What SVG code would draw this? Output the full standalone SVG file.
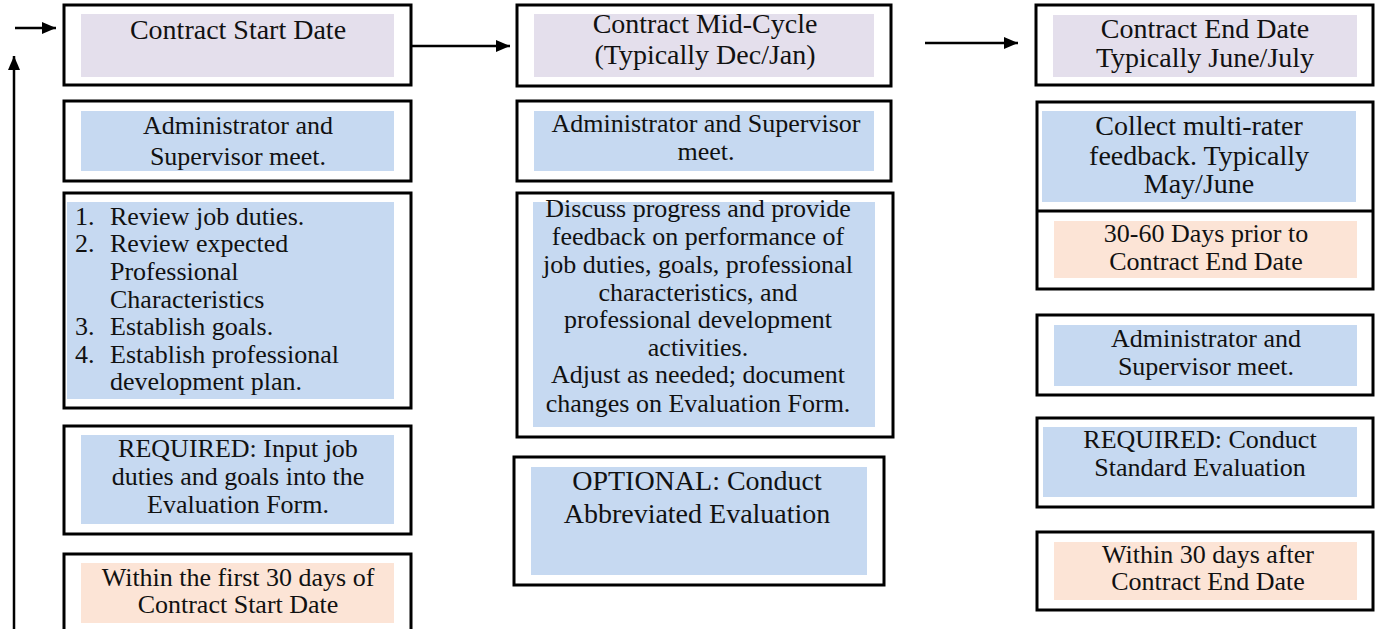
<svg xmlns="http://www.w3.org/2000/svg" width="1375" height="629" viewBox="0 0 1375 629" font-family="'Liberation Serif', 'Times New Roman', 'DejaVu Serif', serif">
<defs>
<marker id="ah" viewBox="0 0 14 12" refX="14" refY="6" markerWidth="14" markerHeight="12" markerUnits="userSpaceOnUse" orient="auto">
<path d="M0,0 L14,6 L0,12 Z" fill="#000"/>
</marker>
</defs>
<style>
.box{fill:#fff;stroke:#000;stroke-width:3}
.lav{fill:#E4DFEC}
.blue{fill:#C6D9F1}
.peach{fill:#FCE4D6}
.t{font-family:'Liberation Serif','Times New Roman','DejaVu Serif',serif;fill:#111;font-size:26px}
.c{text-anchor:middle}
.h{font-size:28px}
.b{font-size:28px}
.conn{stroke:#000;stroke-width:2.5;fill:none;marker-end:url(#ah)}
</style>
<rect width="1375" height="629" fill="#fff"/>

<g id="connectors">
<line class="conn" x1="15" y1="28" x2="56" y2="28"/>
<line class="conn" x1="14" y1="629" x2="14" y2="56"/>
<line class="conn" x1="411" y1="46" x2="510" y2="46"/>
<line class="conn" x1="925" y1="43" x2="1018" y2="43"/>
</g>

<g id="start-date">
<rect class="box" x="64" y="5" width="347" height="80"/>
<rect class="lav" x="81" y="14" width="313" height="63"/>
<text class="t c h" x="238" y="39">Contract Start Date</text>
</g>
<g id="start-meet">
<rect class="box" x="64" y="101" width="347" height="80"/>
<rect class="blue" x="81" y="111" width="313" height="60"/>
<text class="t c" x="238" y="134">Administrator and</text>
<text class="t c" x="238" y="165">Supervisor meet.</text>
</g>
<g id="start-list">
<rect class="box" x="64" y="193" width="347" height="215"/>
<rect class="blue" x="67" y="202" width="327" height="197"/>
<text class="t" x="75" y="225">1.</text><text class="t" x="110" y="225">Review job duties.</text>
<text class="t" x="75" y="252">2.</text><text class="t" x="110" y="252">Review expected</text>
<text class="t" x="110" y="280">Professional</text>
<text class="t" x="110" y="308">Characteristics</text>
<text class="t" x="75" y="335">3.</text><text class="t" x="110" y="335">Establish goals.</text>
<text class="t" x="75" y="363">4.</text><text class="t" x="110" y="363">Establish professional</text>
<text class="t" x="110" y="390">development plan.</text>
</g>
<g id="start-required">
<rect class="box" x="64" y="426" width="347" height="108"/>
<rect class="blue" x="81" y="435" width="313" height="89"/>
<text class="t c" x="238" y="457">REQUIRED: Input job</text>
<text class="t c" x="238" y="485">duties and goals into the</text>
<text class="t c" x="238" y="513">Evaluation Form.</text>
</g>
<g id="start-timing">
<rect class="box" x="64" y="554" width="347" height="95"/>
<rect class="peach" x="81" y="563" width="313" height="60"/>
<text class="t c" x="238" y="586">Within the first 30 days of</text>
<text class="t c" x="238" y="613">Contract Start Date</text>
</g>

<g id="mid-cycle">
<rect class="box" x="517" y="5" width="374" height="81"/>
<rect class="lav" x="534" y="14" width="340" height="63"/>
<text class="t c h" x="705" y="33">Contract Mid-Cycle</text>
<text class="t c h" x="705" y="64">(Typically Dec/Jan)</text>
</g>
<g id="mid-meet">
<rect class="box" x="517" y="101" width="374" height="80"/>
<rect class="blue" x="534" y="111" width="340" height="60"/>
<text class="t c" x="706" y="132">Administrator and Supervisor</text>
<text class="t c" x="706" y="160">meet.</text>
</g>
<g id="mid-discuss">
<rect class="box" x="517" y="193" width="376" height="244"/>
<rect class="blue" x="533" y="202" width="342" height="225"/>
<text class="t c" x="698" y="217">Discuss progress and provide</text>
<text class="t c" x="698" y="245">feedback on performance of</text>
<text class="t c" x="698" y="273">job duties, goals, professional</text>
<text class="t c" x="698" y="301">characteristics, and</text>
<text class="t c" x="698" y="328">professional development</text>
<text class="t c" x="698" y="356">activities.</text>
<text class="t c" x="698" y="383">Adjust as needed; document</text>
<text class="t c" x="698" y="412">changes on Evaluation Form.</text>
</g>
<g id="mid-optional">
<rect class="box" x="514" y="457" width="370" height="128"/>
<rect class="blue" x="531" y="467" width="336" height="108"/>
<text class="t c b" x="697" y="490">OPTIONAL: Conduct</text>
<text class="t c b" x="697" y="523">Abbreviated Evaluation</text>
</g>

<g id="end-date">
<rect class="box" x="1036" y="5" width="337" height="80"/>
<rect class="lav" x="1053" y="15" width="304" height="62"/>
<text class="t c h" x="1205" y="38">Contract End Date</text>
<text class="t c h" x="1205" y="67">Typically June/July</text>
</g>
<g id="end-feedback">
<rect class="box" x="1037" y="102" width="336" height="187"/>
<line x1="1037" y1="211" x2="1373" y2="211" stroke="#000" stroke-width="3"/>
<rect class="blue" x="1042" y="111" width="314" height="91"/>
<text class="t c b" x="1199" y="135">Collect multi-rater</text>
<text class="t c b" x="1199" y="165">feedback. Typically</text>
<text class="t c b" x="1199" y="193">May/June</text>
<rect class="peach" x="1054" y="221" width="303" height="57"/>
<text class="t c" x="1206" y="242">30-60 Days prior to</text>
<text class="t c" x="1206" y="270">Contract End Date</text>
</g>
<g id="end-meet">
<rect class="box" x="1037" y="315" width="336" height="80"/>
<rect class="blue" x="1054" y="325" width="303" height="61"/>
<text class="t c" x="1206" y="347">Administrator and</text>
<text class="t c" x="1206" y="375">Supervisor meet.</text>
</g>
<g id="end-required">
<rect class="box" x="1037" y="418" width="336" height="89"/>
<rect class="blue" x="1043" y="427" width="314" height="70"/>
<text class="t c" x="1200" y="448">REQUIRED: Conduct</text>
<text class="t c" x="1200" y="476">Standard Evaluation</text>
</g>
<g id="end-timing">
<rect class="box" x="1037" y="532" width="336" height="78"/>
<rect class="peach" x="1054" y="542" width="303" height="58"/>
<text class="t c" x="1208" y="563">Within 30 days after</text>
<text class="t c" x="1208" y="590">Contract End Date</text>
</g>
</svg>
